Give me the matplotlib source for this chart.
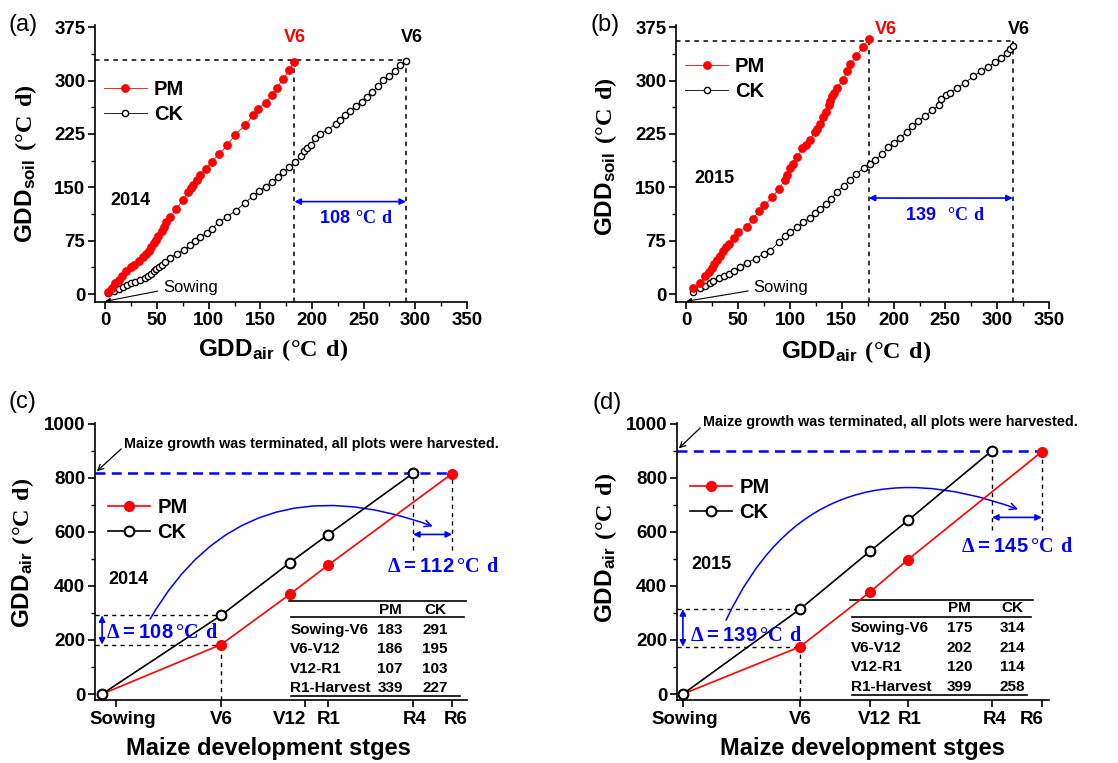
import numpy as np
import matplotlib
matplotlib.use("Agg")
import matplotlib.pyplot as plt
from matplotlib.patches import FancyArrowPatch
from matplotlib.ticker import MultipleLocator

plt.rcParams["font.family"] = ["Liberation Sans", "DejaVu Sans"]
plt.rcParams["font.weight"] = "bold"
plt.rcParams["axes.labelweight"] = "bold"
plt.rcParams["mathtext.fontset"] = "custom"
plt.rcParams["mathtext.sf"] = "Liberation Sans:bold"
plt.rcParams["mathtext.rm"] = "Liberation Sans:bold"
plt.rcParams["mathtext.bf"] = "Liberation Serif:bold"

# ---- (a) 2014: GDD air vs GDD soil, sowing to V6
pm14_air = [3, 6, 9, 13, 16, 20, 25, 28, 33, 36, 39, 42, 44, 47, 49, 51, 55, 57, 59, 63,
            68, 75, 80, 83, 85, 89, 92, 97, 103, 110, 118, 125, 135, 143, 148, 155, 161,
            166, 172, 178, 183]
pm14_soil = [3, 8, 15, 20, 26, 33, 38, 41, 47, 52, 57, 61, 66, 72, 76, 82, 89, 95, 101, 109,
             119, 132, 143, 149, 154, 161, 167, 176, 186, 197, 209, 223, 237, 251, 260, 269,
             280, 290, 302, 315, 326]
ck14_air = [3, 8, 13, 17, 21, 25, 29, 34, 38, 41, 44, 47, 49, 52, 55, 58, 63, 69, 76, 82,
            87, 92, 98, 103, 110, 118, 126, 135, 143, 149, 155, 161, 167, 172, 178, 184, 189,
            192, 195, 199, 203, 208, 215, 223, 227, 232, 237, 243, 248, 253, 258, 264, 269,
            275, 280, 285, 291]
ck14_soil = [2, 5, 7, 10, 13, 15, 17, 20, 23, 25, 29, 32, 35, 38, 41, 45, 51, 57, 62, 69,
             74, 80, 86, 92, 101, 109, 117, 128, 138, 145, 151, 158, 164, 171, 178, 185, 194,
             201, 205, 210, 219, 225, 231, 239, 245, 251, 257, 264, 270, 277, 284, 292, 301,
             307, 313, 322, 328]

# ---- (b) 2015
pm15_air = [6, 13, 18, 22, 25, 27, 30, 32, 35, 38, 41, 46, 50, 58, 64, 70, 75, 83, 89, 95,
            97, 100, 103, 107, 112, 115, 119, 124, 126, 129, 132, 135, 138, 139, 141, 142,
            145, 151, 155, 158, 164, 170, 176]
pm15_soil = [8, 16, 25, 31, 37, 43, 48, 54, 60, 66, 71, 79, 88, 94, 105, 117, 125, 136, 148,
             160, 167, 177, 183, 192, 205, 210, 217, 228, 232, 239, 249, 256, 265, 271, 279,
             283, 289, 301, 313, 323, 334, 347, 358]
ck15_air = [6, 13, 18, 23, 26, 31, 36, 41, 46, 52, 58, 67, 75, 81, 89, 95, 100, 107, 113,
            119, 124, 129, 135, 140, 145, 152, 158, 164, 171, 177, 182, 189, 195, 200, 206,
            213, 218, 224, 230, 237, 244, 246, 251, 254, 261, 269, 277, 284, 291, 298, 304,
            309, 312, 315]
ck15_soil = [3, 8, 12, 15, 18, 22, 25, 29, 32, 38, 44, 50, 57, 61, 73, 82, 87, 94, 101, 107,
             114, 119, 126, 133, 144, 152, 161, 169, 177, 183, 188, 197, 206, 212, 219, 228,
             236, 243, 250, 258, 266, 274, 280, 283, 289, 297, 306, 313, 319, 326, 331, 339,
             344, 348]

# ---- (c)/(d) GDD air per development interval
stages = ["Sowing", "V6", "V12", "R1", "R4", "R6"]
intervals = ["Sowing-V6", "V6-V12", "V12-R1", "R1-Harvest"]
pm14_int = [183, 186, 107, 339]
ck14_int = [291, 195, 103, 227]
pm15_int = [175, 202, 120, 399]
ck15_int = [314, 214, 114, 258]

# stage layout on the x axis (0-100 units)
pos14 = [1.9, 33.9, 52.4, 62.6, 85.5, 96.0]
tick14 = [5.6, 33.9, 56.5, 62.6, 85.5, 96.0]
lab14 = [7.5, 33.9, 52.4, 62.9, 86.0, 97.0]
pos15 = [1.6, 33.1, 51.9, 62.1, 84.7, 98.1]
tick15 = [1.6, 33.1, 51.9, 62.1, 84.7, 98.1]
lab15 = [2.2, 33.3, 53.2, 62.6, 85.5, 95.4]

RED = "#ff0000"
BLUE = "#0000ff"
TICK_FS = 13.5


def delta_label(txt):
    return r"$\mathbf{Δ}\mathsf{=}\mathsf{%s}\,\mathbf{°C\ d}$" % txt


def style_axes(ax):
    ax.spines["top"].set_visible(False)
    ax.spines["right"].set_visible(False)
    ax.spines["left"].set_linewidth(1.2)
    ax.spines["bottom"].set_linewidth(1.2)
    ax.tick_params(which="major", direction="out", length=5, width=1.2,
                   labelsize=TICK_FS, pad=2)
    ax.tick_params(which="minor", direction="out", length=3, width=1.0)


def soil_panel(ax, pm_x, pm_y, ck_x, ck_y, year, gap, v6_y, sow_txt, legend_y):
    ax.plot(ck_x, ck_y, "-o", color="k", lw=0.6, ms=4.5, mfc="white", mec="k", mew=1.0,
            label="CK", zorder=3)
    ax.plot(pm_x, pm_y, "-o", color=RED, lw=0.6, ms=5.3, mfc=RED, mec=RED, label="PM",
            zorder=4)
    ax.set_xlim(-10, 350)
    ax.set_ylim(-11, 378)
    ax.xaxis.set_major_locator(MultipleLocator(50))
    ax.xaxis.set_minor_locator(MultipleLocator(25))
    ax.yaxis.set_major_locator(MultipleLocator(75))
    ax.yaxis.set_minor_locator(MultipleLocator(37.5))
    style_axes(ax)

    hy = (pm_y[-1] + ck_y[-1]) / 2 + 2
    dash = dict(color="k", lw=1.1, ls=(0, (3, 3)), zorder=2)
    ax.plot([-10, ck_x[-1]], [hy, hy], **dash)
    ax.plot([pm_x[-1], pm_x[-1]], [-11, hy], **dash)
    ax.plot([ck_x[-1], ck_x[-1]], [-11, hy], **dash)

    ax.annotate("", xy=(ck_x[-1], gap[1]), xytext=(pm_x[-1], gap[1]),
                arrowprops=dict(arrowstyle="<|-|>", color=BLUE, lw=1.2, mutation_scale=9,
                                shrinkA=0, shrinkB=0))
    ax.text(gap[3], gap[1] - 24, r"$\mathsf{%s}%s\mathbf{°C\ d}$" % (gap[0], gap[2]),
            color=BLUE, fontsize=13, ha="center", va="center")

    ax.text(pm_x[-1] + v6_y[1], v6_y[0], "V6", color=RED, fontsize=13, ha="center",
            va="center", clip_on=False)
    ax.text(ck_x[-1] + 6, v6_y[0], "V6", color="k", fontsize=13, ha="center",
            va="center", clip_on=False)
    ax.text(year[1], year[2], year[0], fontsize=13, ha="center", va="center")

    ax.annotate("Sowing", xy=(0, -10), xytext=sow_txt, fontsize=12, fontweight="normal",
                ha="left", va="center",
                arrowprops=dict(arrowstyle="-|>", color="k", lw=0.8, mutation_scale=7,
                                shrinkA=2, shrinkB=0, relpos=(0, 0.3)))

    handles, labels = ax.get_legend_handles_labels()
    ax.legend(handles[::-1], labels[::-1], loc="upper left",
              bbox_to_anchor=(0.025, legend_y), frameon=False, fontsize=14.5,
              handlelength=2.1, handletextpad=0.35, labelspacing=0.3,
              borderpad=0, borderaxespad=0, markerscale=1.0)
    ax.set_xlabel(r"$\mathsf{GDD_{air}}\ \mathbf{(°C\ d)}$", fontsize=17.5)
    ax.set_ylabel(r"$\mathsf{GDD_{soil}}\ \mathbf{(°C\ d)}$", fontsize=17.5)


def stage_panel(ax, pos, ticks, labs, pm_int, ck_int, year, cfg):
    pos = np.array(pos)
    pm_y = np.concatenate([[0], np.cumsum(pm_int)])
    ck_y = np.concatenate([[0], np.cumsum(ck_int)])
    pm_x = pos[[0, 1, 2, 3, 5]]
    ck_x = pos[[0, 1, 2, 3, 4]]

    ax.set_xlim(0, 100)
    ax.set_ylim(-22, 1002)
    ax.yaxis.set_major_locator(MultipleLocator(200))
    ax.yaxis.set_minor_locator(MultipleLocator(100))
    ax.xaxis.remove_overlapping_locs = False
    ax.set_xticks(ticks)
    ax.set_xticklabels([])
    ax.set_xticks(labs, minor=True)
    ax.set_xticklabels(stages, minor=True)
    style_axes(ax)
    ax.tick_params(axis="x", which="minor", length=0, pad=8, labelsize=TICK_FS)

    top = max(pm_y[-1], ck_y[-1])
    ax.plot([0, pm_x[-1]], [top, top], color=BLUE, lw=1.8, ls=(0, (4, 2.5)), zorder=2)

    ax.plot(pm_x, pm_y, "-o", color=RED, lw=1.2, ms=7, mfc=RED, mec=RED, label="PM", zorder=4)
    ax.plot(ck_x, ck_y, "-o", color="k", lw=1.2, ms=7, mfc="white", mec="k", mew=1.5,
            label="CK", zorder=5)

    dash = dict(color="k", lw=1.0, ls=(0, (3, 3)), zorder=1)
    ax.plot([0, pos[1]], [ck_y[1], ck_y[1]], **dash)
    ax.plot([0, pos[1]], [pm_y[1], pm_y[1]], **dash)
    ax.plot([pos[1], pos[1]], [-22, pm_y[1]], **dash)
    ax.plot([pos[4], pos[4]], [cfg["drop"], ck_y[-1]], **dash)
    ax.plot([pos[5], pos[5]], [cfg["drop"], pm_y[-1]], **dash)

    arr = dict(arrowstyle="<|-|>", color=BLUE, lw=1.2, mutation_scale=9, shrinkA=0, shrinkB=0)
    ax.annotate("", xy=(pos[0], pm_y[1]), xytext=(pos[0], ck_y[1]), arrowprops=arr)
    ax.annotate("", xy=(pos[5], cfg["harr"]), xytext=(pos[4], cfg["harr"]), arrowprops=arr)

    d1, d2 = cfg["deltas"]
    ax.text(cfg["d1_xy"][0], cfg["d1_xy"][1], delta_label(d1), color=BLUE, fontsize=14.5,
            ha="left", va="center", zorder=6)
    ax.text(cfg["d2_xy"][0], cfg["d2_xy"][1], delta_label(d2), color=BLUE, fontsize=14.5,
            ha="center", va="center", clip_on=False)

    curve = FancyArrowPatch(cfg["c_from"], cfg["c_to"],
                            connectionstyle=cfg["c_style"], arrowstyle="->",
                            color=BLUE, lw=1.1, mutation_scale=12, shrinkA=0, shrinkB=0)
    ax.add_patch(curve)

    ax.annotate("Maize growth was terminated, all plots were harvested.",
                xy=(0.5, top + 8), xytext=cfg["note_xy"], fontsize=10.4,
                ha="left", va="center",
                arrowprops=dict(arrowstyle="->", color="k", lw=0.9, mutation_scale=10,
                                shrinkA=0, shrinkB=0, relpos=(0, 0.3)))

    ax.text(cfg["year_xy"][0], cfg["year_xy"][1], year, fontsize=13, ha="center", va="center")

    # summary table
    t = cfg["table"]
    ax.plot([t["x0"], t["x1"]], [t["ytop"], t["ytop"]], color="k", lw=1.2)
    ax.plot([t["x0"] + 0.6, t["x1"] - 0.5], [t["yhead"], t["yhead"]], color="k", lw=1.2)
    ax.plot([t["x0"] + 0.6, t["x1"] - 1.5], [t["ybot"], t["ybot"]], color="k", lw=1.2)
    ax.text(t["pm_x"], t["yhdr"], "PM", fontsize=11, ha="center", va="center")
    ax.text(t["ck_x"], t["yhdr"], "CK", fontsize=11, ha="center", va="center")
    for name, p, c, yy in zip(intervals, pm_int, ck_int, t["rows"]):
        ax.text(t["x0"] + 0.3, yy, name, fontsize=11, ha="left", va="center")
        ax.text(t["pm_x"], yy, str(p), fontsize=11, ha="center", va="center")
        ax.text(t["ck_x"], yy, str(c), fontsize=11, ha="center", va="center")

    ax.legend(loc="upper left", bbox_to_anchor=(0.035, cfg["leg_y"]), frameon=False,
              fontsize=14.5, handlelength=2.1, handletextpad=0.35, labelspacing=0.3,
              borderpad=0, borderaxespad=0)
    ax.set_xlabel("Maize development stges", fontsize=17, fontweight="bold")
    ax.set_ylabel(r"$\mathsf{GDD_{air}}\ \mathbf{(°C\ d)}$", fontsize=17.5)


fig = plt.figure(figsize=(11.18, 7.63), dpi=100)
ax_a = fig.add_axes([0.0850, 0.6042, 0.3327, 0.3630])
ax_b = fig.add_axes([0.6047, 0.6042, 0.3336, 0.3630])
ax_c = fig.add_axes([0.0850, 0.0826, 0.3327, 0.3630])
ax_d = fig.add_axes([0.6055, 0.0826, 0.3327, 0.3630])

soil_panel(ax_a, pm14_air, pm14_soil, ck14_air, ck14_soil, ("2014", 24, 132),
           ("108", 130, r"\ ", 243), (361, 0), (56, 10), 0.80)
soil_panel(ax_b, pm15_air, pm15_soil, ck15_air, ck15_soil, ("2015", 27, 162),
           ("139", 135, r"\ \ ", 250), (372, 17), (65, 10), 0.885)

stage_panel(ax_c, pos14, tick14, lab14, pm14_int, ck14_int, "2014", dict(
    drop=531, harr=590, deltas=("108", "112"),
    d1_xy=(3.0, 229), d2_xy=(93.6, 472),
    c_from=(14.8, 277), c_to=(90.8, 620), c_style="angle3,angleA=60,angleB=-20",
    note_xy=(7.8, 926), year_xy=(8.9, 424),
    table=dict(x0=52.2, x1=99.7, ytop=343, yhead=284, ybot=-7, yhdr=310,
               pm_x=79.3, ck_x=91.4, rows=[236, 166, 92, 22]),
    leg_y=0.73))
stage_panel(ax_d, pos15, tick15, lab15, pm15_int, ck15_int, "2015", dict(
    drop=605, harr=653, deltas=("139", "145"),
    d1_xy=(3.5, 218), d2_xy=(91.4, 546),
    c_from=(13.2, 273), c_to=(91.7, 683), c_style="angle3,angleA=65,angleB=-20",
    note_xy=(7.0, 1004), year_xy=(9.4, 480),
    table=dict(x0=46.5, x1=95.7, ytop=347, yhead=284, ybot=-4, yhdr=317,
               pm_x=76.0, ck_x=90.2, rows=[243, 170, 100, 26]),
    leg_y=0.80))

ax_a.xaxis.set_label_coords(0.48, -0.125)
ax_b.xaxis.set_label_coords(0.483, -0.135)
ax_c.xaxis.set_label_coords(0.465, -0.135)
ax_d.xaxis.set_label_coords(0.498, -0.135)
ax_a.yaxis.set_label_coords(-0.15, 0.5)
ax_b.yaxis.set_label_coords(-0.153, 0.525)
ax_c.yaxis.set_label_coords(-0.16, 0.53)
ax_d.yaxis.set_label_coords(-0.156, 0.55)

for lab, (x, y) in zip(["(a)", "(b)", "(c)", "(d)"],
                       [(0.0206, 0.967), (0.541, 0.967), (0.0197, 0.473), (0.543, 0.472)]):
    fig.text(x, y, lab, fontsize=17, fontweight="normal", ha="center", va="center")

fig.savefig("out.png", dpi=100)
